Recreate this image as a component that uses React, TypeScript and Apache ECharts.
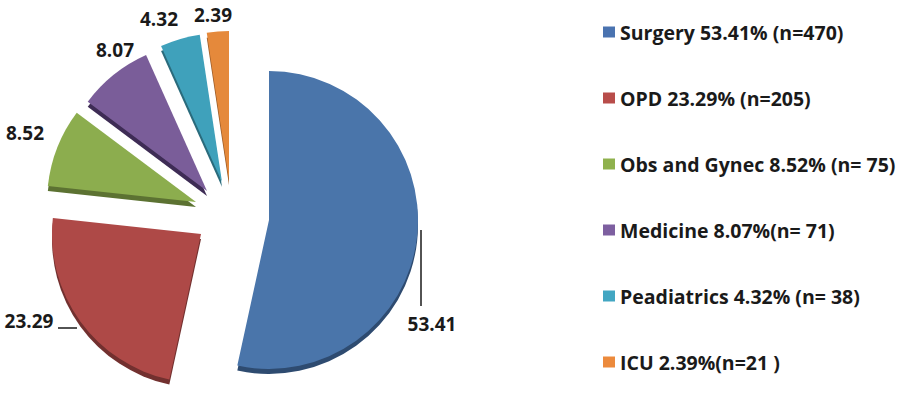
import React, { useEffect, useRef } from "react";
import * as echarts from "echarts";

const categories = ["Surgery", "OPD", "Obs and Gynec", "Medicine", "Peadiatrics", "ICU"];
const counts = [470, 205, 75, 71, 38, 21];
const percents = [53.41, 23.29, 8.52, 8.07, 4.32, 2.39];
const legendLabels = [
  "Surgery 53.41% (n=470)",
  "OPD 23.29% (n=205)",
  "Obs and Gynec 8.52% (n= 75)",
  "Medicine 8.07%(n= 71)",
  "Peadiatrics 4.32% (n= 38)",
  "ICU 2.39%(n=21 )",
];

const colors = ["#4a75aa", "#ae4947", "#8cad4e", "#7a5d99", "#3fa1bb", "#e5893b"];
const legendColors = ["#4a73b0", "#b84d4a", "#8fb14d", "#7d5fa0", "#42a6c2", "#ec8a3c"];
const sideColors = ["#2e4b70", "#72302f", "#5c7232", "#3e2c55", "#2a6b7c", "#9a5a26"];

// exploded slice centres (layout)
const centers: number[][] = [
  [269, 220],
  [201, 234],
  [196, 202],
  [207, 191],
  [222, 182],
  [229, 180],
];
const labelPos: number[][] = [
  [432, 324],
  [29, 321],
  [25, 133],
  [115, 50],
  [159, 19],
  [213, 15],
];
const labelLines: (number[][] | null)[] = [
  [[421, 230], [421, 306], [421, 306]],
  [[77, 328], [58, 328], [58, 328]],
  null,
  null,
  null,
  null,
];
const R = 149;
const DEPTH = 5;

export default function App() {
  const ref = useRef<HTMLDivElement>(null);
  useEffect(() => {
    if (!ref.current) return;
    const chart = echarts.init(ref.current, null, { renderer: "svg" });
    const series: any[] = [];
    // side (thickness) layers
    categories.forEach((_, k) => {
      series.push({
        type: "pie",
        silent: true,
        z: 1,
        radius: [0, R],
        center: [centers[k][0], centers[k][1] + DEPTH],
        startAngle: 90,
        clockwise: true,
        avoidLabelOverlap: false,
        label: { show: false },
        labelLine: { show: false },
        emphasis: { disabled: true },
        itemStyle: { borderWidth: 0 },
        data: categories.map((name, i) => ({
          name,
          value: counts[i],
          itemStyle: { color: i === k ? sideColors[i] : "rgba(0,0,0,0)", borderWidth: 0 },
        })),
      });
    });
    categories.forEach((_, k) => {
      series.push({
        type: "pie",
        silent: true,
        z: 2,
        radius: [0, R],
        center: centers[k],
        startAngle: 90,
        clockwise: true,
        avoidLabelOverlap: false,
        emphasis: { disabled: true },
        itemStyle: { borderWidth: 0 },
        label: {
          position: "outside",
          formatter: (p: any) => percents[p.dataIndex].toFixed(2),
          fontFamily: "Open Sans",
          fontWeight: "bold",
          fontSize: 19,
          color: "#1a1a1a",
        },
        labelLine: { lineStyle: { color: "#1a1a1a", width: 1.5 } },
        labelLayout: (p: any) => {
          if (p.dataIndex !== k) return {};
          const out: any = {
            x: labelPos[k][0],
            y: labelPos[k][1],
            align: "center",
            verticalAlign: "middle",
          };
          if (labelLines[k]) out.labelLinePoints = labelLines[k];
          return out;
        },
        data: categories.map((name, i) => ({
          name,
          value: counts[i],
          itemStyle: {
            color: i === k ? colors[i] : "rgba(0,0,0,0)",
            borderWidth: 0,
          },
          label: { show: i === k },
          labelLine: { show: i === k && !!labelLines[k] },
        })),
      });
    });

    chart.setOption({
      animation: false,
      backgroundColor: "#ffffff",
      legend: {
        orient: "vertical",
        left: 603,
        top: 20,
        padding: 0,
        itemWidth: 12,
        itemHeight: 11,
        itemGap: 42,
        selectedMode: false,
        icon: "rect",
        data: categories.map((name, i) => ({ name, itemStyle: { color: legendColors[i] } })),
        formatter: (name: string) => legendLabels[categories.indexOf(name)],
        textStyle: {
          fontFamily: "Open Sans",
          fontWeight: "bold",
          fontSize: 19.5,
          lineHeight: 24,
          color: "#1a1a1a",
        },
      },
      series,
    });
    return () => chart.dispose();
  }, []);
  return (
    <div
      ref={ref}
      style={{ position: "absolute", left: 0, top: 0, width: 907, height: 394 }}
    />
  );
}
